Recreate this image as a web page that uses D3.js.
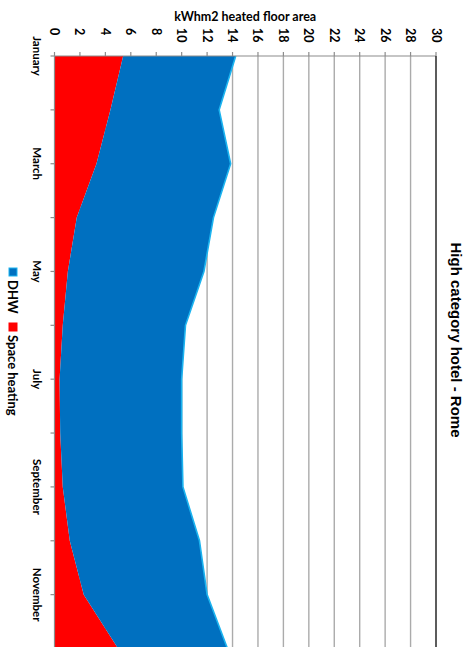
<!DOCTYPE html>
<html>
<head>
<meta charset="utf-8">
<script src="https://cdn.jsdelivr.net/npm/d3@7/dist/d3.min.js"></script>
<style>
  html, body { margin: 0; padding: 0; background: #fff; }
  svg { display: block; }
  text { font-family: Lato, "Open Sans", sans-serif; font-weight: bold; fill: #000; }
</style>
</head>
<body>
<svg id="chart" width="473" height="647"></svg>
<script>
// Monthly energy use, kWh per m2 of heated floor area
const months = ["January", "February", "March", "April", "May", "June",
                "July", "August", "September", "October", "November", "December"];
const spaceHeating = [5.4, 4.4, 3.3, 1.75, 1.05, 0.65, 0.4, 0.45, 0.65, 1.2, 2.3, 5.0];
const dhw = [8.85, 8.55, 10.55, 10.75, 10.7, 9.65, 9.6, 9.55, 9.45, 10.2, 9.7, 8.6];
const valueTicks = d3.range(0, 31, 2);
const labelledMonths = ["January", "March", "May", "July", "September", "November"];

const svg = d3.select("#chart");

// The chart is laid out sideways: values run left→right, months run top→bottom
const x = d3.scaleLinear().domain([0, 30]).range([54.5, 436]);
const y = d3.scalePoint().domain(months).range([56, 648.5]);

const rows = months.map((m, i) => ({
  month: m,
  heat: spaceHeating[i],
  total: spaceHeating[i] + dhw[i]
}));

const bottomY = 647;
const axisY = y(months[0]);

// vertical gridlines
svg.append("g")
  .selectAll("line")
  .data(valueTicks.filter(v => v > 0 && v < 30))
  .join("line")
  .attr("x1", d => x(d)).attr("x2", d => x(d))
  .attr("y1", axisY).attr("y2", bottomY + 5)
  .attr("stroke", "#ababab")
  .attr("stroke-width", 1.4);

// stacked areas
const heatArea = d3.area()
  .y(d => y(d.month))
  .x0(x(0))
  .x1(d => x(d.heat));
const dhwArea = d3.area()
  .y(d => y(d.month))
  .x0(d => x(d.heat))
  .x1(d => x(d.total));
const dhwEdge = d3.line()
  .y(d => y(d.month))
  .x(d => x(d.total));

svg.append("path").datum(rows)
  .attr("d", heatArea)
  .attr("fill", "#ff0000");
svg.append("path").datum(rows)
  .attr("d", dhwArea)
  .attr("fill", "#0070c0");
svg.append("path").datum(rows)
  .attr("d", dhwEdge)
  .attr("fill", "none")
  .attr("stroke", "#1cb4f0")
  .attr("stroke-width", 1.6);

// value axis along the top
svg.append("line")
  .attr("x1", x(0)).attr("x2", x(30))
  .attr("y1", axisY).attr("y2", axisY)
  .attr("stroke", "#8c8c8c").attr("stroke-width", 1.2);
svg.append("g")
  .selectAll("line")
  .data(valueTicks)
  .join("line")
  .attr("x1", d => x(d)).attr("x2", d => x(d))
  .attr("y1", axisY - 4).attr("y2", axisY)
  .attr("stroke", "#8c8c8c").attr("stroke-width", 1.2);
svg.append("g")
  .selectAll("text")
  .data(valueTicks)
  .join("text")
  .attr("transform", d => `translate(${x(d)},28) rotate(90)`)
  .attr("text-anchor", "start")
  .attr("dominant-baseline", "central")
  .attr("font-size", 12.5)
  .text(d => d);

// right edge of the plot
svg.append("line")
  .attr("x1", x(30)).attr("x2", x(30))
  .attr("y1", axisY).attr("y2", bottomY + 5)
  .attr("stroke", "#262626").attr("stroke-width", 1.5);

// month axis along the left
svg.append("line")
  .attr("x1", x(0)).attr("x2", x(0))
  .attr("y1", axisY).attr("y2", bottomY + 5)
  .attr("stroke", "#8c8c8c").attr("stroke-width", 1.2);
svg.append("g")
  .selectAll("line")
  .data(months)
  .join("line")
  .attr("x1", x(0) - 4).attr("x2", x(0))
  .attr("y1", d => y(d)).attr("y2", d => y(d))
  .attr("stroke", "#8c8c8c").attr("stroke-width", 1.2);
svg.append("g")
  .selectAll("text")
  .data(labelledMonths)
  .join("text")
  .attr("transform", d => `translate(37.5,${y(d)}) rotate(90)`)
  .attr("text-anchor", "middle")
  .attr("dominant-baseline", "central")
  .attr("font-size", 11.5)
  .text(d => d);

// axis title
svg.append("text")
  .attr("x", (x(0) + x(30)) / 2)
  .attr("y", 21)
  .attr("text-anchor", "middle")
  .attr("font-size", 12.5)
  .text("kWhm2 heated floor area");

// chart title
svg.append("text")
  .attr("transform", "translate(456,340) rotate(90)")
  .attr("text-anchor", "middle")
  .attr("dominant-baseline", "central")
  .style("font-family", "'Liberation Sans', Arial, sans-serif")
  .attr("font-size", 15)
  .text("High category hotel - Rome");

// legend
const legend = [
  { name: "DHW", color: "#0070c0", edge: "#1cb4f0", y: 268 },
  { name: "Space heating", color: "#ff0000", edge: "#ff0000", y: 323 }
];
const lg = svg.append("g")
  .selectAll("g")
  .data(legend)
  .join("g")
  .attr("transform", d => `translate(13,${d.y})`);
lg.append("rect")
  .attr("x", -4).attr("y", 0)
  .attr("width", 8).attr("height", 8)
  .attr("fill", d => d.color)
  .attr("stroke", d => d.edge)
  .attr("stroke-width", 1);
lg.append("text")
  .attr("transform", "translate(0,12) rotate(90)")
  .attr("text-anchor", "start")
  .attr("dominant-baseline", "central")
  .attr("font-size", 13)
  .text(d => d.name);
</script>
</body>
</html>
